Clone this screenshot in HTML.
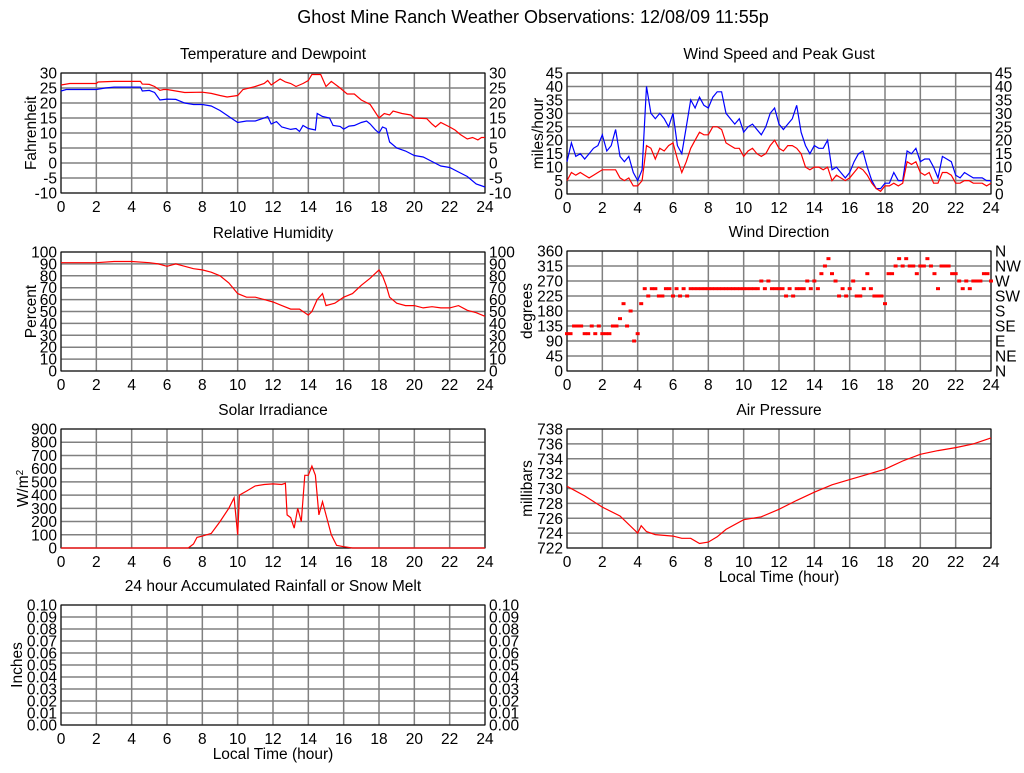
<!DOCTYPE html>
<html><head><meta charset="utf-8"><style>
body{margin:0;background:#fff;width:1024px;height:768px;overflow:hidden}
svg{font-family:"Liberation Sans",sans-serif;font-size:15.5px}
</style></head><body>
<svg id="chart" width="1024" height="768" xmlns="http://www.w3.org/2000/svg">
<text x="533" y="23" text-anchor="middle" font-size="18">Ghost Mine Ranch Weather Observations: 12/08/09 11:55p</text>
</svg>
<script>
// ---- data ----
const tempHours=[0,0.5,2,2.1,3,4.5,4.6,5,5.3,5.6,5.8,6,7,8,8.5,9,9.4,10,10.3,11,11.5,11.7,11.9,12.4,12.7,13,13.3,13.7,14,14.2,14.7,15,15.3,15.8,16.2,16.6,17,17.5,18,18.3,18.6,18.8,19.3,19.8,20,20.7,21,21.2,21.5,22,22.3,22.6,23,23.3,23.6,23.8,24];
const tempValues=[26,26.5,26.5,27,27.2,27.2,26.3,26.2,25.5,24.2,24.5,24.5,23.5,23.6,23.2,22.5,22,22.5,24.5,25.5,26.5,27.5,26,28,27,26.5,25.5,26.5,27.5,29.5,29.5,25.5,27.2,25,23,23,21,19.5,15,16.5,16,17.3,16.5,16,15,14.8,13,12,13.5,12,11,9.5,8,8.5,7.7,8.5,8.5];
const dewHours=[0,0.3,2,2.5,3,4.5,4.6,5,5.3,5.6,6,6.5,7,7.5,8,8.5,9,9.5,10,10.5,11,11.5,11.7,11.9,12.2,12.5,13,13.3,13.5,13.7,14,14.4,14.5,14.8,15.2,15.4,15.8,16,16.3,16.6,17,17.3,17.5,17.8,18,18.2,18.4,18.6,19,19.5,20,20.5,21,21.5,22,22.5,23,23.5,24];
const dewValues=[24,24.5,24.5,25,25.3,25.3,24,24.2,23.5,21,21.3,21.2,20,19.5,19.5,19,17.5,15.5,13.5,14,14,15,15.5,13,13.8,12,11.2,11.5,10.5,12.5,11.5,11,16.5,15.5,15,12.5,12.2,11.3,12.3,12.5,13.5,14,13,11,10,12,11.5,7,5,4,2.5,2,0.5,-1,-1.5,-3,-4.5,-7,-8];
const gustValues=[12,19,14,15,13,15,17,18,22,16,18,24,14,12,14,8,5,9,40,30,28,30,28,25,30,18,15,25,35,32,36,33,32,36,38,38,30,28,26,28,23,25,26,24,22,25,30,32,26,24,26,28,33,23,18,15,18,17,17,20,9,10,8,6,8,12,15,16,10,5,2,2,4,4,8,5,5,16,15,17,12,13,13,10,6,14,13,12,7,6,8,7,6,6,6,5,5];
const speedValues=[5,8,7,8,7,6,7,8,9,9,9,9,6,5,6,3,3,5,18,17,13,17,16,18,19,13,8,12,17,20,23,22,22,25,25,24,19,18,17,17,14,16,17,15,14,15,18,20,17,16,18,18,17,15,10,9,10,10,9,10,5,7,6,5,6,8,10,9,7,4,2,1,3,3,4,3,4,12,11,12,8,7,8,4,4,8,8,7,4,4,5,5,4,4,4,3,4];
const rhHours=[0,2,3,4,5,5.5,6,6.5,7,7.5,8,8.5,9,9.5,10,10.5,11,11.5,12,12.5,13,13.5,14,14.2,14.5,14.8,15,15.5,16,16.5,17,17.5,18,18.2,18.4,18.6,19,19.5,20,20.5,21,21.5,22,22.5,23,23.5,24];
const rhValues=[91,91,92,92,91,90,88,90,88,86,85,83,80,74,65,62,62,60,58,55,52,52,47,50,60,65,55,57,62,65,72,78,85,80,72,62,57,55,55,53,54,53,53,55,51,49,46];
const dirValues=[112,112,135,135,135,112,112,135,112,135,112,112,112,135,135,157,202,135,180,90,112,202,247,225,247,247,225,225,247,247,225,247,225,247,225,
247,247,247,247,247,247,247,247,247,247,247,247,247,247,247,247,247,247,247,247,
270,247,270,247,247,247,247,225,247,225,247,247,247,270,247,270,247,292,315,337,292,270,225,247,225,247,270,225,225,247,292,247,225,225,225,202,292,292,315,337,315,337,315,315,292,315,315,337,315,292,247,315,315,315,292,292,270,247,270,247,270,270,270,292,292,270];
const solarHours=[0,7.2,7.5,7.7,8,8.5,9,9.5,9.8,10,10.1,10.5,11,11.5,12,12.5,12.7,12.8,13,13.2,13.4,13.6,13.8,14,14.2,14.4,14.6,14.8,15,15.3,15.6,16,16.5,24];
const solarValues=[0,0,30,80,90,110,200,300,380,100,400,430,470,480,485,480,490,250,230,150,300,200,550,550,620,550,250,350,250,100,20,10,0,0];
const presHours=[0,1,2,3,4,4.2,4.5,5,6,6.5,7,7.5,8,8.5,9,10,11,12,13,14,15,16,17,18,19,20,21,22,23,24];
const presValues=[730.3,729,727.5,726.3,724,725,724.2,723.8,723.6,723.3,723.3,722.6,722.8,723.5,724.5,725.8,726.2,727.2,728.4,729.5,730.5,731.2,731.9,732.6,733.7,734.6,735.1,735.5,736,736.8];
const rainHours=[];
const rainValues=[];
const xTicks=[0,2,4,6,8,10,12,14,16,18,20,22,24];
const compassLabels=["N","NE","E","SE","S","SW","W","NW","N"];

const NS="http://www.w3.org/2000/svg";
const svg=document.getElementById('chart');
function mk(tag,attrs,parent){const e=document.createElementNS(NS,tag);for(const k in attrs)e.setAttribute(k,attrs[k]);(parent||svg).appendChild(e);return e;}

function panel(cfg){
  const g=mk('g',{});
  
  
  const L=cfg.l,T=cfg.t,R=cfg.r,B=cfg.b;
  const xs=h=>L+(R-L)*h/24;
  const ys=v=>B-(B-T)*(v-cfg.min)/(cfg.max-cfg.min);
  const n=Math.round((cfg.max-cfg.min)/cfg.step);
  for(let i=0;i<=n;i++){
    const v=cfg.min+i*cfg.step, y=ys(v);
    const gl=mk('line',{x1:L,x2:R,y1:y,y2:y,stroke:'#808080','stroke-width':1.5},g);
    
    
    const t=mk('text',{x:L-4,y:y+5.5,'text-anchor':'end'},g);
    
    
    t.textContent=v.toFixed(cfg.dec||0);
    if(cfg.right){
      const t2=mk('text',{x:R+4,y:y+5.5},g);
      
      
      t2.textContent=cfg.compass?compassLabels[i]:v.toFixed(cfg.dec||0);
    }
  }
  xTicks.forEach(h=>{
    const x=xs(h);
    const gl=mk('line',{x1:x,x2:x,y1:T,y2:B,stroke:'#808080','stroke-width':1.5},g);
    
    
    const t=mk('text',{x:x,y:B+19,'text-anchor':'middle'},g);
    
    
    t.textContent=h;
  });
  const fr=mk('rect',{x:L,y:T,width:R-L,height:B-T,fill:'none',stroke:'#000','stroke-width':1},g);
  
  
  const tt=mk('text',{x:(L+R)/2,y:T-14,'text-anchor':'middle'},g);
  
  
  tt.textContent=cfg.title;
  const yl=mk('text',{x:0,y:0,'text-anchor':'middle',transform:`translate(${cfg.ylx},${(T+B)/2}) rotate(-90)`},g);
  
  
  if(cfg.ylabelSup){yl.textContent=cfg.ylabel;const s=mk('tspan',{'font-size':10,dy:-5},yl);s.textContent=cfg.ylabelSup;}
  else yl.textContent=cfg.ylabel;
  if(cfg.xlabel){
    const xl=mk('text',{x:(L+R)/2,y:B+34,'text-anchor':'middle'},g);
    
    
    xl.textContent=cfg.xlabel;
  }
  (cfg.series||[]).forEach(s=>{
    if(!s.v.length)return;
    const pts=s.v.map((v,i)=>xs(s.h[i]).toFixed(1)+','+ys(v).toFixed(1)).join(' ');
    const pl=mk('polyline',{points:pts,fill:'none',stroke:s.c,'stroke-width':1.2},g);
    
    
  });
  (cfg.dots||[]).forEach(s=>{
    s.v.forEach((v,i)=>{
      const r=mk('rect',{x:xs(s.h[i])-2,y:ys(v)-1.5,width:4,height:3,fill:s.c},g);
      
      
    });
  });
}
const q=speedValues.map((_,i)=>i*0.25);
const d=dirValues.map((_,i)=>i*0.2);
panel({name:'temperature-panel',title:'Temperature and Dewpoint',ylabel:'Fahrenheit',ylx:36,l:61,t:73,r:485,b:193,min:-10,max:30,step:5,right:true,
  series:[{name:'temperature-line',h:tempHours,v:tempValues,c:'#ff0000'},{name:'dewpoint-line',h:dewHours,v:dewValues,c:'#0000ff'}]});
panel({name:'wind-speed-panel',title:'Wind Speed and Peak Gust',ylabel:'miles/hour',ylx:543,l:567,t:73,r:991,b:194,min:0,max:45,step:5,right:true,
  series:[{name:'peak-gust-line',h:q,v:gustValues,c:'#0000ff'},{name:'wind-speed-line',h:q,v:speedValues,c:'#ff0000'}]});
panel({name:'humidity-panel',title:'Relative Humidity',ylabel:'Percent',ylx:36,l:61,t:252,r:485,b:371,min:0,max:100,step:10,right:true,
  series:[{name:'humidity-line',h:rhHours,v:rhValues,c:'#ff0000'}]});
panel({name:'wind-direction-panel',title:'Wind Direction',ylabel:'degrees',ylx:532,l:567,t:251,r:991,b:371,min:0,max:360,step:45,right:true,compass:true,
  dots:[{h:d,v:dirValues,c:'#ff0000'}]});
panel({name:'solar-panel',title:'Solar Irradiance',ylabel:'W/m',ylabelSup:'2',ylx:28,l:61,t:429,r:485,b:548,min:0,max:900,step:100,
  series:[{name:'solar-line',h:solarHours,v:solarValues,c:'#ff0000'}]});
panel({name:'pressure-panel',title:'Air Pressure',ylabel:'millibars',ylx:532,l:567,t:429,r:991,b:548,min:722,max:738,step:2,xlabel:'Local Time (hour)',
  series:[{name:'pressure-line',h:presHours,v:presValues,c:'#ff0000'}]});
panel({name:'rainfall-panel',title:'24 hour Accumulated Rainfall or Snow Melt',ylabel:'Inches',ylx:22,l:61,t:605,r:485,b:725,min:0,max:0.1,step:0.01,dec:2,right:true,xlabel:'Local Time (hour)',
  series:[{name:'rainfall-line',h:rainHours,v:rainValues,c:'#ff0000'}]});
</script>
</body></html>
